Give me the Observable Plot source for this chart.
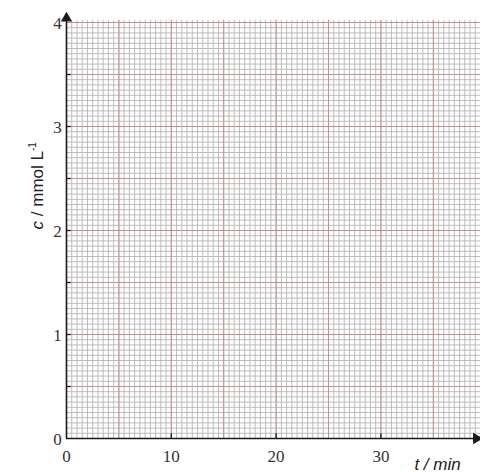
<!DOCTYPE html>
<html><head><meta charset="utf-8">
<script src="https://cdn.jsdelivr.net/npm/d3@7"></script>
<script src="https://cdn.jsdelivr.net/npm/@observablehq/plot@0.6"></script>
<style>body{margin:0;background:#fff;overflow:hidden}</style>
</head><body><div id="chart"></div>
<script>
// axis tick labels
const xTickLabels = [0, 10, 20, 30];
const yTickLabels = [0, 1, 2, 3, 4];
// small tick marks on the axes
const xAxisTicks = [10, 20, 30];
const yAxisTicks = [0.5, 1, 1.5, 2, 2.5, 3, 3.5];
// graph-paper grid (minor every 0.5 min / 0.05 mmol, major every 5 min / 0.5 mmol)
const xGridMinor = d3.range(0, 80).map(i => i * 0.5);
const xGridMajor = [0, 5, 10, 15, 20, 25, 30, 35];
const yGridMinor = d3.range(0, 81).map(i => i * 0.05);
const yGridMajor = [0, 0.5, 1, 1.5, 2, 2.5, 3, 3.5, 4];
const xLabel = "t / min";
const yLabel = "c / mmol L-1";

const minorColor = "#bcbcbc";
const majorColor = "#c6918c";
const axisColor = "#1a1a1a";

const plot = Plot.plot({
  width: 480, height: 473,
  marginLeft: 66, marginRight: 0, marginTop: 22, marginBottom: 35,
  x: {domain: [0, 39.5], axis: null},
  y: {domain: [0, 4], axis: null},
  style: {background: "white", overflow: "visible"},
  marks: [
    Plot.ruleX(xGridMinor, {y1: 0, y2: 4.02, stroke: minorColor, strokeWidth: 1}),
    Plot.ruleY(yGridMinor, {x1: 0, x2: 39.5, stroke: minorColor, strokeWidth: 1}),
    Plot.ruleX(xGridMajor, {y1: 0, y2: 4.02, stroke: majorColor, strokeWidth: 1}),
    Plot.ruleY(yGridMajor, {x1: 0, x2: 39.5, stroke: majorColor, strokeWidth: 1}),
    // axes
    Plot.ruleX([0], {y1: 0, y2: 4.05, stroke: axisColor, strokeWidth: 1.6}),
    Plot.ruleY([0], {x1: 0, x2: 39, stroke: axisColor, strokeWidth: 1.6}),
    Plot.ruleY(yAxisTicks, {x1: 0, x2: 0.45, stroke: axisColor, strokeWidth: 1.3}),
    Plot.ruleX(xAxisTicks, {y1: 0, y2: 0.045, stroke: axisColor, strokeWidth: 1.3}),
    // arrow heads
    Plot.dot([0], {x: 0, y: 4.04, symbol: "triangle", r: 4.2, fill: axisColor, stroke: "none"}),
    Plot.dot([0], {x: 39.1, y: 0, symbol: "triangle", r: 4.2, fill: axisColor, stroke: "none", rotate: 90}),
    // tick labels
    Plot.text(yTickLabels, {x: 0, y: d => d, dx: -9, dy: 1, textAnchor: "middle", fontSize: 17, fontFamily: "Liberation Serif", fill: "#333"}),
    Plot.text(xTickLabels, {x: d => d, y: 0, dy: 18, textAnchor: "middle", fontSize: 17, fontFamily: "Liberation Serif", fill: "#333"}),
    // axis titles
    Plot.text([xLabel], {x: 35.4, y: 0, dy: 26, textAnchor: "middle", fontSize: 17, fontFamily: "Liberation Sans", fontStyle: "italic", fill: "#222"}),
    Plot.text([yLabel], {x: 0, y: 2.43, dx: -29, rotate: -90, textAnchor: "middle", fontSize: 17, fontFamily: "Liberation Sans", fill: "#222"})
  ]
});
document.getElementById("chart").appendChild(plot);

// rich formatting for the y title: italic "c" and superscript "-1"
d3.select(plot).selectAll("text").each(function() {
  const t = d3.select(this);
  if (t.text() === yLabel) {
    t.text(null);
    t.append("tspan").attr("font-style", "italic").text("c");
    t.append("tspan").text(" / mmol L");
    t.append("tspan").attr("font-size", 10).attr("dy", -7).text("-1");
  }
});
</script>
</body></html>
